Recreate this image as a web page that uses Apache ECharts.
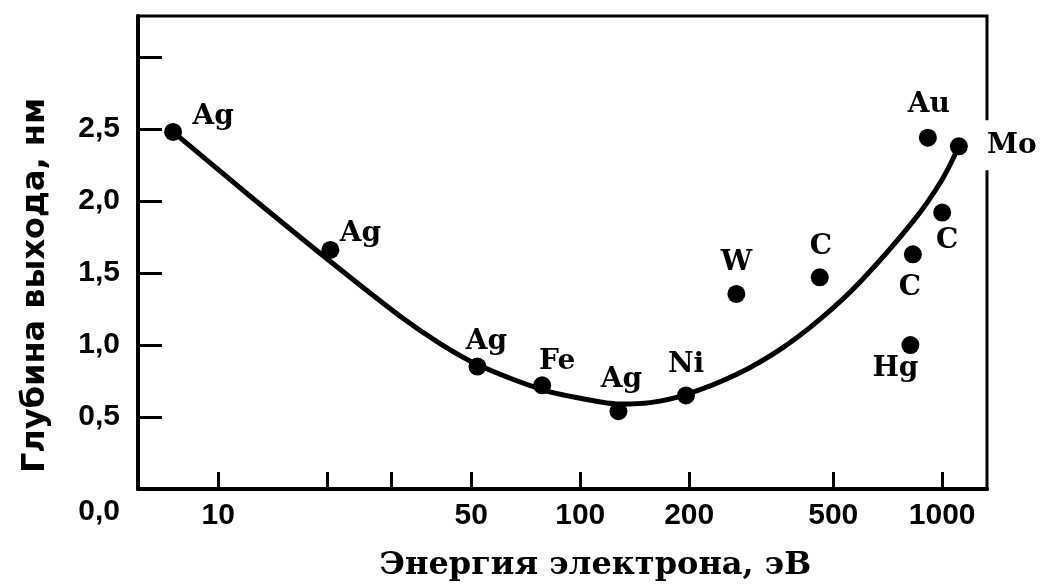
<!DOCTYPE html>
<html>
<head>
<meta charset="utf-8">
<script src="https://cdn.jsdelivr.net/npm/echarts@6/dist/echarts.min.js"></script>
<style>
html,body{margin:0;padding:0;background:#fff;}
#chart{width:1045px;height:587px;}
</style>
</head>
<body>
<div id="chart"></div>
<script>
// ---- data ----
const tickEnergies = [10, 20, 30, 50, 100, 200, 500, 1000];
const labelEnergies = [10, 50, 100, 200, 500, 1000];
const elements = ['Ag', 'Ag', 'Ag', 'Fe', 'Ag', 'Ni', 'W', 'C', 'C', 'C', 'Au', 'Mo', 'Hg'];
const energy = [7.5, 20.4, 52, 78.5, 127.5, 196, 270, 459, 830, 1000, 913, 1112, 817];
const depth = [2.48, 1.66, 0.85, 0.72, 0.54, 0.65, 1.355, 1.47, 1.63, 1.92, 2.44, 2.38, 1.0];
const curveEnergy = [7.5, 12.3, 20.4, 31.8, 41.0, 51.9, 78.5, 100, 129, 156, 196, 270, 357, 460, 594, 832, 1000, 1112];
const curveDepth = [2.48, 2.03, 1.58, 1.20, 1.01, 0.865, 0.69, 0.63, 0.59, 0.60, 0.656, 0.795, 0.97, 1.18, 1.44, 1.86, 2.15, 2.38];
const xTitle = 'Энергия электрона, эВ';
const yTitle = 'Глубина выхода, нм';

// ---- label placement (style) ----
const labelOffsets = [[40, -15], [30, -16], [9, -25], [15, -24], [3, -32], [0, -31], [0, -31], [1, -31], [-3, 33], [5, 28], [1, -33], [52, -1], [-15, 24]];

const chart = echarts.init(document.getElementById('chart'), null, {renderer: 'canvas'});

const pointData = elements.map((name, i) => ({
  name: name,
  value: [energy[i], depth[i]],
  label: {
    offset: labelOffsets[i],
    ...(name === 'Mo' ? {backgroundColor: '#fff', padding: [12, 2, 10, 4]} : {})
  }
}));

const curveData = curveEnergy.map((e, i) => [e, curveDepth[i]]);

const numFont = {fontFamily: 'Liberation Sans', fontWeight: 'bold', fontSize: 30, color: '#000'};

chart.setOption({
  backgroundColor: '#fff',
  animation: false,
  grid: {left: 138, right: 58, top: 16, bottom: 98, show: true, borderColor: '#000', borderWidth: 3, backgroundColor: 'transparent'},
  xAxis: {
    type: 'log',
    logBase: 10,
    min: 6.0,
    max: 1330,
    name: xTitle,
    nameLocation: 'middle',
    nameGap: 61,
    nameTextStyle: {fontFamily: 'DejaVu Serif', fontWeight: 'bold', fontSize: 32, color: '#000', padding: [0, 0, 0, 66]},
    axisLine: {show: true, lineStyle: {color: '#000', width: 4}},
    axisTick: {show: true, inside: true, length: 17, lineStyle: {color: '#000', width: 3}, customValues: tickEnergies},
    axisLabel: Object.assign({margin: 12, customValues: labelEnergies, formatter: v => String(Math.round(v))}, numFont),
    splitLine: {show: false},
    minorTick: {show: false}
  },
  yAxis: {
    type: 'value',
    min: 0,
    max: 3.285,
    interval: 0.5,
    name: yTitle,
    nameLocation: 'middle',
    nameRotate: 90,
    nameGap: 86,
    nameTextStyle: {fontFamily: 'DejaVu Sans', fontWeight: 'bold', fontSize: 32, color: '#000', padding: [0, 66, 0, 0]},
    axisLine: {show: true, lineStyle: {color: '#000', width: 4}},
    axisTick: {show: true, inside: true, length: 24, lineStyle: {color: '#000', width: 3}},
    axisLabel: Object.assign({
      margin: 18,
      showMaxLabel: false,
      formatter: v => {
        if (Math.abs(v - 3) < 1e-6) return '';
        if (Math.abs(v) < 1e-6) return '{z|0,0}';
        return v.toFixed(1).replace('.', ',');
      },
      rich: {z: Object.assign({padding: [46, 0, 0, 0]}, numFont)}
    }, numFont),
    splitLine: {show: false}
  },
  series: [
    {
      type: 'line',
      data: curveData,
      smooth: 0.3,
      showSymbol: false,
      symbol: 'none',
      lineStyle: {color: '#000', width: 5},
      z: 2
    },
    {
      type: 'scatter',
      data: pointData,
      symbol: 'circle',
      symbolSize: 18,
      itemStyle: {color: '#000', opacity: 1},
      label: {
        show: true,
        position: 'inside',
        formatter: p => p.name,
        fontFamily: 'DejaVu Serif',
        fontWeight: 'bold',
        fontSize: 28,
        color: '#000'
      },
      z: 3
    }
  ]
});
</script>
</body>
</html>
